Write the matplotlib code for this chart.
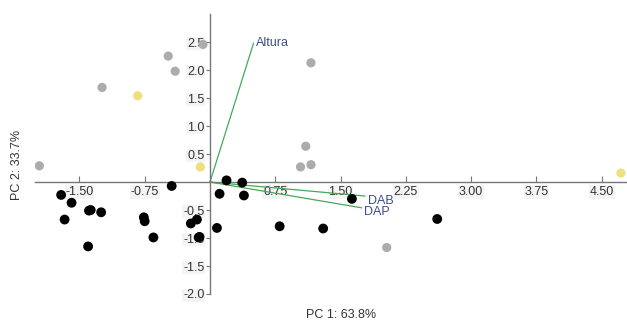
import matplotlib.pyplot as plt

plt.rcParams['font.family'] = ['Liberation Sans', 'DejaVu Sans']

# PCA scores
grey_x = [-1.96, -1.24, -0.48, -0.40, -0.08, 1.16, 1.10, 1.04, 1.16, 2.03]
grey_y = [0.29, 1.69, 2.25, 1.98, 2.46, 2.13, 0.64, 0.27, 0.31, -1.17]

yellow_x = [-0.83, -0.11, 4.72]
yellow_y = [1.54, 0.27, 0.16]

black_x = [-1.71, -1.59, -1.67, -1.39, -1.37, -1.25, -1.40, -0.76, -0.75, -0.65,
           -0.44, -0.22, -0.15, -0.13, -0.12, 0.08, 0.11, 0.19, 0.37, 0.39,
           0.80, 1.30, 1.63, 2.61]
black_y = [-0.23, -0.37, -0.67, -0.51, -0.50, -0.54, -1.15, -0.63, -0.70, -0.99,
           -0.07, -0.74, -0.67, -0.99, -0.98, -0.82, -0.21, 0.03, -0.01, -0.24,
           -0.79, -0.83, -0.30, -0.66]

# loadings
var_names = ['Altura', 'DAB', 'DAP']
var_x = [0.50, 1.78, 1.74]
var_y = [2.48, -0.25, -0.46]

xticks = [-1.50, -0.75, 0.75, 1.50, 2.25, 3.00, 3.75, 4.50]
yticks = [-2.0, -1.5, -1.0, -0.5, 0.5, 1.0, 1.5, 2.0, 2.5]

fig = plt.figure(figsize=(6.27, 3.21), dpi=100)
W, H = 627, 321
ax = fig.add_axes([35 / W, 27 / H, (W - 35) / W, 281 / H])
ax.set_xlim(-2.01, 4.79)
ax.set_ylim(-2.0, 3.02)

for s in ['top', 'right']:
    ax.spines[s].set_visible(False)
ax.spines['left'].set_position(('data', 0))
ax.spines['bottom'].set_position(('data', 0))
ax.spines['left'].set_bounds(-2.0, 3.0)
for s in ['left', 'bottom']:
    ax.spines[s].set_color('#777777')
    ax.spines[s].set_linewidth(1.0)

ax.set_xticks(xticks)
ax.set_xticklabels(['%.2f' % v for v in xticks])
ax.set_yticks(yticks)
ax.set_yticklabels(['%.1f' % v for v in yticks])
ax.tick_params(axis='x', direction='in', length=4, pad=3, labelsize=9,
               color='#777777', labelcolor='#333333')
ax.tick_params(axis='y', direction='out', length=3, pad=1, labelsize=9,
               color='#777777', labelcolor='#333333')
for lab in ax.get_xticklabels() + ax.get_yticklabels():
    lab.set_bbox(dict(facecolor='#f2f2f2', edgecolor='none', alpha=0.8, pad=0.5))

ax.scatter(grey_x, grey_y, s=44, color='#acacac', edgecolors='none', zorder=3)
ax.scatter(yellow_x, yellow_y, s=44, color='#efe07e', edgecolors='none', zorder=3)
ax.scatter(black_x, black_y, s=50, color='black', edgecolors='none', zorder=3)

for name, vx, vy in zip(var_names, var_x, var_y):
    ax.plot([0, vx], [0, vy], color='#44aa5a', lw=0.9, zorder=2)
    dy = 0.0 if vy > 0 else -0.08
    ax.text(vx + 0.03, vy + dy, name, color='#3c4f86', fontsize=9,
            ha='left', va='center', zorder=4)

fig.text(341 / W, 1 - 315 / H, 'PC 1: 63.8%', fontsize=9, color='#333333',
         ha='center', va='center')
fig.text(17 / W, 1 - 165 / H, 'PC 2: 33.7%', fontsize=9, color='#333333',
         ha='center', va='center', rotation=90)

fig.savefig('out.png', dpi=100)
